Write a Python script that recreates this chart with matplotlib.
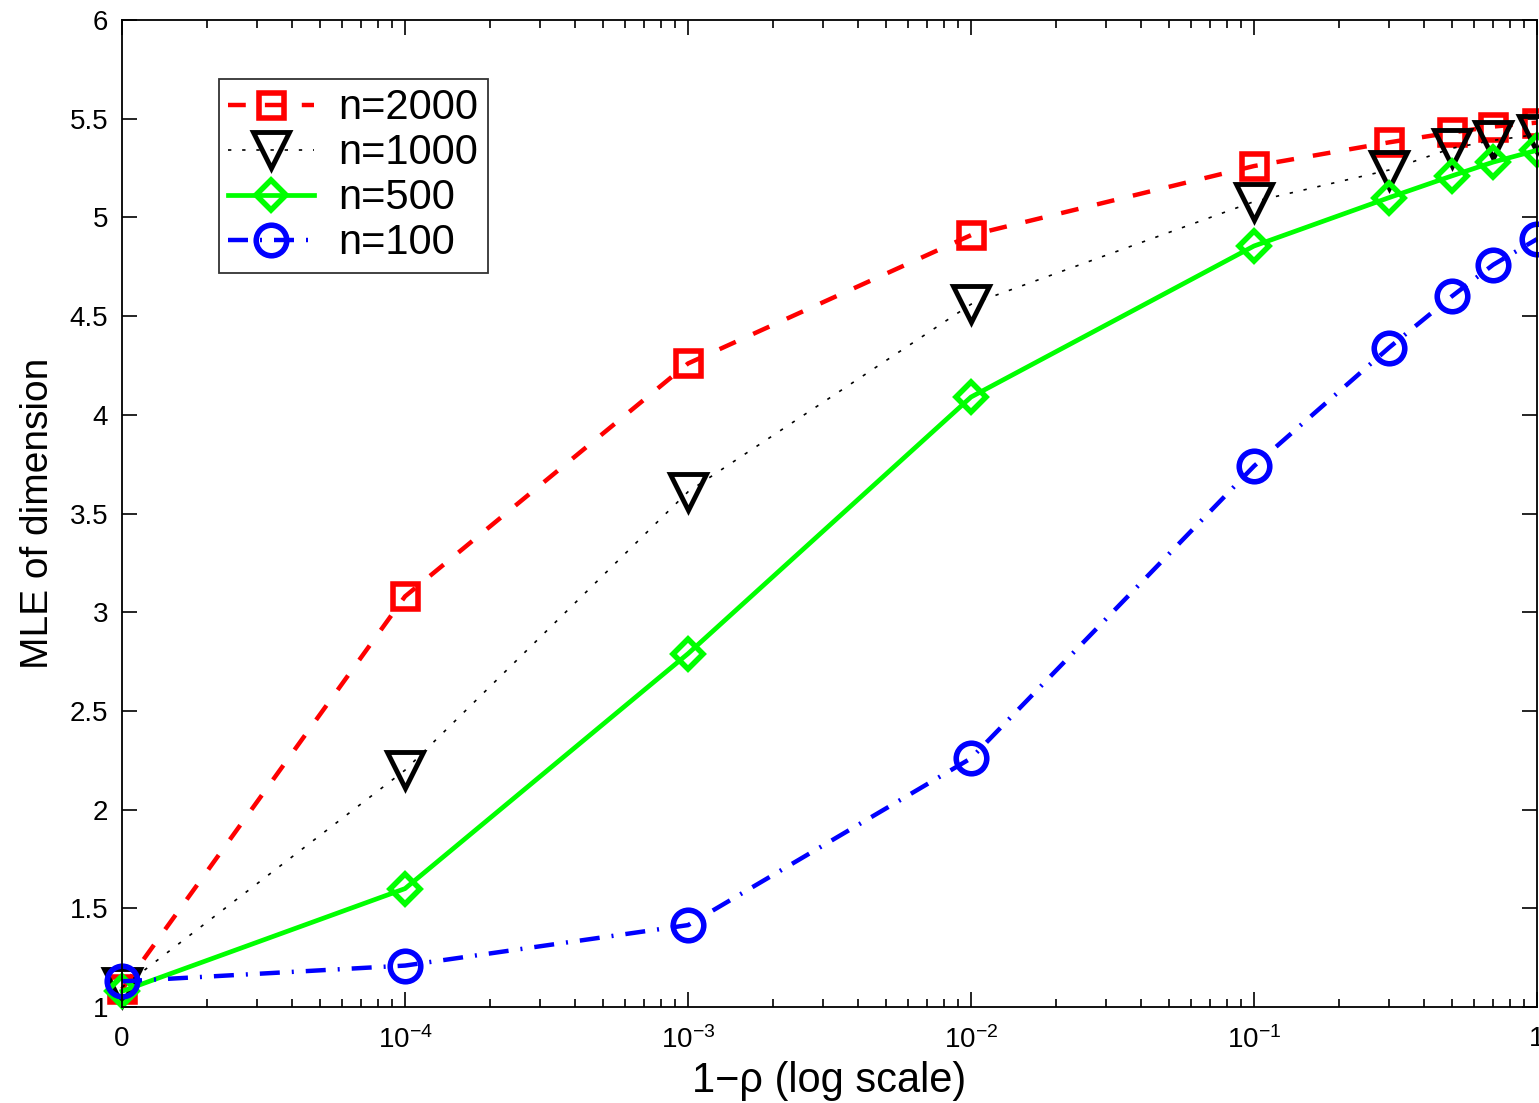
import numpy as np
import matplotlib
matplotlib.use("Agg")
import matplotlib.pyplot as plt
from matplotlib.markers import MarkerStyle
from matplotlib.ticker import FixedLocator, FixedFormatter, LogLocator, NullFormatter

plt.rcParams['font.family'] = ['Liberation Sans', 'DejaVu Sans']
plt.rcParams['mathtext.fontset'] = 'custom'
plt.rcParams['mathtext.rm'] = 'Liberation Sans'
plt.rcParams['mathtext.it'] = 'Liberation Sans:italic'
plt.rcParams['mathtext.bf'] = 'Liberation Sans:bold'
plt.rcParams['mathtext.default'] = 'rm'

# 1 - rho values; the leftmost point (rho = 1) is placed at 1e-5 and labelled "0"
x_vals = [1e-5, 1e-4, 1e-3, 1e-2, 1e-1, 0.3, 0.5, 0.7, 1.0]

mle_n2000 = [1.09, 3.08, 4.26, 4.91, 5.26, 5.38, 5.43, 5.46, 5.48]
mle_n1000 = [1.10, 2.20, 3.61, 4.56, 5.08, 5.24, 5.35, 5.39, 5.42]
mle_n500 = [1.08, 1.60, 2.79, 4.09, 4.855, 5.10, 5.21, 5.28, 5.34]
mle_n100 = [1.13, 1.21, 1.415, 2.26, 3.74, 4.34, 4.60, 4.76, 4.89]

series_labels = ["n=2000", "n=1000", "n=500", "n=100"]

x_major = [1e-5, 1e-4, 1e-3, 1e-2, 1e-1, 1.0]
x_major_labels = ["0", r"$10^{-4}$", r"$10^{-3}$", r"$10^{-2}$", r"$10^{-1}$", "1"]
y_ticks = [1, 1.5, 2, 2.5, 3, 3.5, 4, 4.5, 5, 5.5, 6]

fig = plt.figure(figsize=(15.39, 11.03), dpi=100)
ax = fig.add_axes([0.0793, 0.087, 0.9194, 0.8949])


def mk(sym):
    return MarkerStyle(sym, joinstyle='miter')


common = dict(clip_on=False, markerfacecolor='none', dash_capstyle='butt')
ax.plot(x_vals, mle_n2000, linestyle=(0, (4.0, 4.3)), color='#ff0000', lw=3.2,
        marker=mk('s'), ms=18, mew=4, label=series_labels[0], **common)
ax.plot(x_vals, mle_n1000, linestyle=(0, (2.0, 6.5)), color='black', lw=1.2,
        marker=mk('v'), ms=26, mew=3.5, label=series_labels[1], **common)
ax.plot(x_vals, mle_n500, linestyle='-', color='#00ff00', lw=3.4,
        marker=mk('D'), ms=15.5, mew=4, label=series_labels[2], **common)
ax.plot(x_vals, mle_n100, linestyle=(0, (4.5, 2.7, 0.45, 2.7)), color='#0000ff', lw=3.2,
        marker=mk('o'), ms=22, mew=4, label=series_labels[3], **common)

ax.set_xscale('log')
ax.set_xlim(1e-5, 1.0)
ax.set_ylim(1, 6)

ax.xaxis.set_major_locator(FixedLocator(x_major))
ax.xaxis.set_major_formatter(FixedFormatter(x_major_labels))
ax.xaxis.set_minor_locator(LogLocator(base=10, subs=np.arange(2, 10), numticks=20))
ax.xaxis.set_minor_formatter(NullFormatter())
ax.yaxis.set_major_locator(FixedLocator(y_ticks))
ax.yaxis.set_major_formatter(FixedFormatter([f"{v:g}" for v in y_ticks]))

ax.tick_params(axis='both', which='both', direction='in', top=True, right=True,
               labelsize=20, width=1.2)
ax.tick_params(axis='y', which='major', length=11, pad=10)
ax.tick_params(axis='x', which='major', length=11, pad=14)
ax.tick_params(axis='x', which='minor', length=6)
for s in ax.spines.values():
    s.set_linewidth(1.3)

ax.set_xlabel(u"1\u2212\u03c1 (log scale)", fontsize=30, labelpad=5)
ax.set_ylabel("MLE of dimension", fontsize=28, labelpad=10)

leg = ax.legend(loc='upper left', bbox_to_anchor=(0.0686, 0.940), numpoints=1,
                fontsize=30, frameon=True, fancybox=False, edgecolor='black',
                handlelength=2.05, borderpad=0.22, labelspacing=0.12, handletextpad=0.6,
                borderaxespad=0)
leg.get_frame().set_linewidth(1.3)

fig.savefig("out.png", dpi=100)
